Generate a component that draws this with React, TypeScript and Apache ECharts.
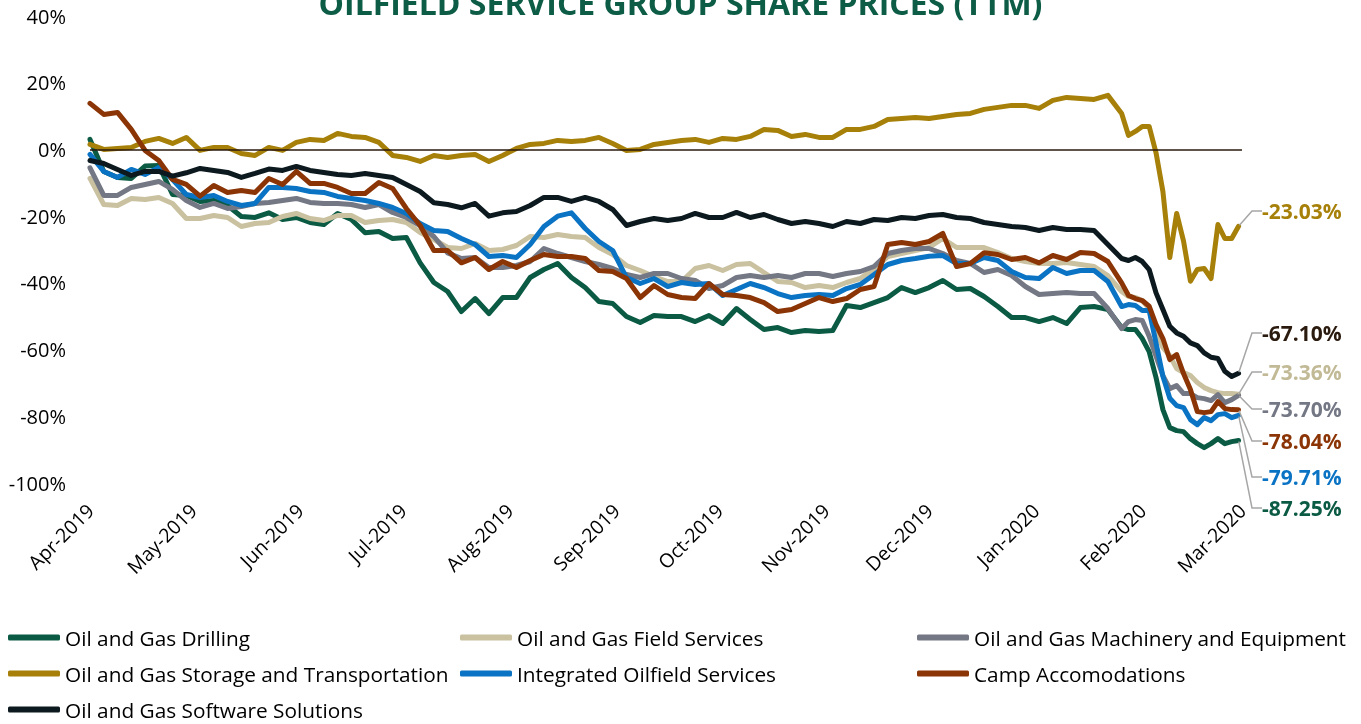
import React, { useEffect, useRef } from 'react';
import * as echarts from 'echarts';

const FONT = "'Open Sans', 'Noto Sans', sans-serif";

const sampleDays = [
  0, 4, 8, 12, 16, 20, 24, 28, 32, 36, 40, 44, 48, 52, 56, 60, 64, 68, 72, 76,
  80, 84, 88, 92, 96, 100, 104, 108, 112, 116, 120, 124, 128, 132, 136, 140, 144, 148, 152, 156,
  160, 164, 168, 172, 176, 180, 184, 188, 192, 196, 200, 204, 208, 212, 216, 220, 224, 228, 232, 236,
  240, 244, 248, 252, 256, 260, 264, 268, 272, 276, 280, 284, 288, 292, 296, 300,
  302, 304, 306, 308, 310, 312, 314, 316, 318, 320, 322, 324, 326, 328, 330, 332, 334,
];

const drilling = [
  3, -6.6, -8.4, -8.7, -5, -4.8, -13.5, -13.8, -15.6, -15.3,
  -16.8, -20.1, -20.4, -19, -21, -20.4, -21.9, -22.5, -19.2, -21,
  -25, -24.6, -26.7, -26.4, -34, -39.9, -42.6, -48.6, -44.7, -49.2,
  -44.4, -44.4, -38.4, -36, -34.2, -38.4, -41.4, -45.6, -46.2, -50.1,
  -51.9, -49.8, -50.1, -50.1, -51.6, -49.8, -52.2, -47.7, -51, -54,
  -53.4, -54.9, -54.3, -54.6, -54.3, -46.8, -47.4, -45.9, -44.4, -41.4,
  -42.9, -41.4, -39.3, -42, -41.7, -44.1, -47.1, -50.4, -50.4, -51.6,
  -50.4, -52.2, -47.4, -47.1, -48, -53.4,
  -54, -54, -56.7, -60.6, -68.4, -78, -83.4, -84.3, -84.6, -86.7, -88.2, -89.4, -88.2, -86.7, -88.2, -87.6, -87.25,
];

const fieldServices = [
  -8.7, -16.5, -16.8, -14.7, -15, -14.4, -16.2, -20.7, -20.7, -19.8,
  -20.4, -23.1, -22.2, -21.9, -20.1, -19.2, -20.7, -21.3, -19.8, -19.8,
  -21.9, -21.3, -21, -21.9, -24.9, -27, -29.4, -29.7, -28.2, -30.3,
  -30, -28.8, -26.1, -26.4, -25.5, -26.1, -26.4, -29.4, -31.5, -34.8,
  -36.3, -38.1, -39.6, -39.6, -35.7, -34.8, -36.3, -34.5, -34.2, -36.9,
  -39.6, -39.9, -41.4, -40.8, -41.4, -39.9, -38.7, -35.7, -32.1, -31.2,
  -30.3, -29.4, -26.7, -29.4, -29.4, -29.4, -30.9, -32.7, -33.6, -34.2,
  -34.2, -33.9, -34.5, -35.1, -37.8, -42.6,
  -44.1, -44.4, -45.3, -47.7, -54.3, -59.4, -61.8, -65.7, -66.9, -67.8, -69.9, -71.4, -72.3, -72.9, -73.2, -73.2, -73.36,
];

const machinery = [
  -5.5, -13.8, -13.8, -11.4, -10.5, -9.6, -12, -15.3, -17.4, -16.2,
  -17.7, -17.1, -16.2, -15.9, -15.3, -14.7, -15.9, -16.2, -16.2, -16.5,
  -17.4, -16.5, -18.9, -20.4, -22.8, -26.1, -31, -32.7, -32.4, -35.4,
  -35.4, -34.8, -33.6, -29.7, -31.2, -32.4, -33.6, -34.5, -35.7, -37.5,
  -38.4, -37.2, -37.2, -38.7, -39.3, -41.7, -40.8, -38.4, -37.8, -38.4,
  -37.8, -38.4, -37.2, -37.2, -38.1, -37.2, -36.6, -35.1, -31.2, -30.3,
  -29.7, -29.7, -31.2, -33.3, -34.2, -36.9, -36, -37.8, -41.1, -43.5,
  -43.2, -42.9, -43.2, -43.2, -47.7, -53.7,
  -51.6, -51, -51.3, -56, -62, -67.8, -71.7, -70.8, -73.2, -73.2, -74.4, -74.7, -75.3, -73.5, -75.9, -75, -73.7,
];

const storage = [
  1.5, 0, 0.3, 0.6, 2.4, 3.3, 1.8, 3.6, -0.3, 0.6,
  0.6, -1.2, -1.8, 0.6, -0.3, 2.1, 3, 2.7, 4.8, 3.9,
  3.6, 2.1, -1.8, -2.4, -3.6, -1.8, -2.4, -1.8, -1.5, -3.6,
  -1.8, 0.3, 1.5, 1.8, 2.7, 2.4, 2.7, 3.6, 1.8, -0.3,
  0, 1.5, 2.1, 2.7, 3, 2.1, 3.3, 3, 3.9, 6,
  5.7, 3.9, 4.5, 3.6, 3.6, 6, 6, 6.9, 9, 9.3,
  9.6, 9.3, 9.9, 10.5, 10.8, 12, 12.6, 13.2, 13.2, 12.3,
  14.7, 15.6, 15.3, 15, 16.2, 10.8,
  4.2, 5.4, 6.9, 6.9, -1, -12.6, -32.4, -19.2, -27.5, -39.5, -36, -35.7, -38.7, -22.5, -26.7, -26.7, -23.03,
];

const integrated = [
  -1.5, -6.6, -8.4, -6, -7.5, -5.4, -9, -13.5, -14.4, -13.8,
  -15.6, -16.8, -16.2, -11.4, -11.4, -11.7, -12.6, -12.9, -14.1, -14.7,
  -15.3, -16.2, -17.4, -19.2, -22.2, -24.3, -24.6, -26.7, -28.5, -32.1,
  -31.8, -32.4, -28.5, -23.1, -20, -19, -23.7, -27.6, -30.3, -38.4,
  -40.2, -38.7, -41.1, -39.9, -40.5, -40.2, -43.8, -42, -40.2, -41.4,
  -43.2, -44.4, -43.8, -43.5, -43.8, -41.7, -40.5, -37.5, -34.5, -33.3,
  -32.7, -32, -31.8, -34.2, -34.2, -32.4, -33.3, -36.6, -38.4, -38.7,
  -35.4, -37.2, -36.3, -36.3, -39.6, -47.1,
  -46.5, -46.8, -48.3, -48.3, -58, -68, -74.6, -76.8, -77.4, -81, -82.5, -80.4, -81.3, -79.5, -79.2, -80.4, -79.71,
];

const camp = [
  13.8, 10.5, 11.1, 6, -0.3, -3.3, -9, -10.5, -14, -10.8,
  -12.9, -12.3, -12.9, -8.7, -10.5, -6.6, -10.2, -10.2, -11.4, -13.2,
  -13.2, -9.9, -11.7, -17.7, -22.8, -30.3, -30.3, -34, -32.4, -36,
  -33.6, -35.4, -33.3, -31.5, -32.1, -32.1, -32.7, -36.3, -36.6, -38.7,
  -44.4, -40.8, -43.5, -44.4, -44.7, -40.2, -43.5, -43.8, -44.4, -45.9,
  -48.6, -48, -46.2, -44.4, -45.6, -44.7, -42, -41.1, -28.5, -27.9,
  -28.5, -27.6, -25.2, -35.1, -34.2, -31, -31.5, -33, -32.4, -34,
  -31.8, -33, -30.9, -31.2, -33.6, -40,
  -43.8, -44.7, -45.3, -47, -52.5, -56.7, -63, -61.5, -67.2, -72, -78.6, -78.9, -78.6, -75.6, -77.7, -78, -78.04,
];

const software = [
  -3.3, -4.2, -6, -7.8, -6.6, -6.6, -8, -7, -5.7, -6.3,
  -6.9, -8.4, -7.2, -5.9, -6.3, -5.1, -6.3, -6.9, -7.5, -7.8,
  -7.2, -7.8, -8.4, -10.5, -12.6, -16, -16.5, -17.5, -16.2, -20,
  -19, -18.6, -16.8, -14.4, -14.4, -15.6, -14.4, -15.6, -18, -22.8,
  -21.6, -20.7, -21.3, -20.7, -19.2, -20.4, -20.4, -18.9, -20.4, -19.5,
  -21, -22.2, -21.6, -22.2, -23.1, -21.6, -22.2, -21, -21.3, -20.4,
  -20.7, -19.8, -19.5, -20.4, -20.7, -21.9, -22.5, -23.1, -23.4, -24.3,
  -23.4, -24, -24, -24.3, -28.5, -32.7,
  -33.3, -32.4, -33.6, -36, -43, -48, -53, -55, -56, -58, -58.8, -61, -62.3, -62.7, -66.5, -68.1, -67.1,
];

const MONTHS = ['Jan', 'Feb', 'Mar', 'Apr', 'May', 'Jun', 'Jul', 'Aug', 'Sep', 'Oct', 'Nov', 'Dec'];

// daily categories 2019-04-01 .. 2020-03-01
const categories: string[] = [];
{
  const start = Date.UTC(2019, 3, 1);
  const end = Date.UTC(2020, 2, 1);
  for (let t = start; t <= end; t += 86400000) {
    categories.push(new Date(t).toISOString().slice(0, 10));
  }
}

const SERIES = [
  { name: 'Oil and Gas Drilling', values: drilling, color: '#0b5b44', labelColor: '#0b5b44', labelY: 508 },
  { name: 'Oil and Gas Field Services', values: fieldServices, color: '#c9c19f', labelColor: '#c2ba96', labelY: 372 },
  { name: 'Oil and Gas Machinery and Equipment', values: machinery, color: '#747784', labelColor: '#747784', labelY: 409 },
  { name: 'Oil and Gas Storage and Transportation', values: storage, color: '#a68009', labelColor: '#a68009', labelY: 211 },
  { name: 'Integrated Oilfield Services', values: integrated, color: '#0a73c4', labelColor: '#0a73c4', labelY: 477 },
  { name: 'Camp Accomodations', values: camp, color: '#8b3506', labelColor: '#8b3506', labelY: 441 },
  { name: 'Oil and Gas Software Solutions', values: software, color: '#0c1a1f', labelColor: '#2b1a0e', labelY: 333 },
];

const LEGEND_COLUMNS = [
  { left: 8, names: ['Oil and Gas Drilling', 'Oil and Gas Storage and Transportation', 'Oil and Gas Software Solutions'] },
  { left: 460, names: ['Oil and Gas Field Services', 'Integrated Oilfield Services'] },
  { left: 917, names: ['Oil and Gas Machinery and Equipment', 'Camp Accomodations'] },
];

function buildData(values: number[], labelColor: string) {
  const arr: any[] = categories.map(() => '-');
  sampleDays.forEach((d, i) => {
    arr[d] = values[i];
  });
  const lastDay = sampleDays[sampleDays.length - 1];
  const lastVal = values[values.length - 1];
  arr[lastDay] = {
    value: lastVal,
    symbol: 'circle',
    symbolSize: 2,
    label: {
      show: true,
      formatter: lastVal.toFixed(2) + '%',
      color: labelColor,
      fontSize: 21,
      fontWeight: 'bold',
      fontFamily: FONT,
      padding: [0, 0, 0, 8],
    },
    labelLine: {
      show: true,
      length2: 10,
      minTurnAngle: 0,
      lineStyle: { color: '#a6a6a6', width: 1.5 },
    },
  };
  return arr;
}

export default function App() {
  const ref = useRef<HTMLDivElement>(null);

  useEffect(() => {
    if (!ref.current) return;
    const chart = echarts.init(ref.current, undefined, { renderer: 'svg' });

    const series: any[] = SERIES.map((s, i) => ({
      type: 'line',
      name: s.name,
      data: buildData(s.values, s.labelColor),
      showSymbol: true,
      showAllSymbol: true,
      symbol: 'none',
      connectNulls: true,
      color: s.color,
      lineStyle: { color: s.color, width: 5, join: 'round', cap: 'round' },
      itemStyle: { color: s.color },
      emphasis: { disabled: true },
      labelLayout: { x: 1254, y: s.labelY, align: 'left', verticalAlign: 'middle' },
      markLine:
        i === 0
          ? {
              silent: true,
              symbol: ['none', 'none'],
              label: { show: false },
              lineStyle: { color: '#2b1a0e', width: 1.5, type: 'solid' },
              data: [{ yAxis: 0 }],
            }
          : undefined,
    }));

    const legendCommon = {
      type: 'plain',
      orient: 'vertical',
      top: 627,
      height: 110,
      padding: 0,
      itemWidth: 52,
      itemHeight: 6,
      itemGap: 15,
      icon: 'roundRect',
      selectedMode: false,
      textStyle: { fontSize: 20.8, color: '#000', fontFamily: FONT, lineHeight: 20 },
    };

    chart.setOption({
      animation: false,
      title: {
        text: 'OILFIELD SERVICE GROUP SHARE PRICES (TTM)',
        left: 'center',
        top: -19,
        textStyle: { fontSize: 32, fontWeight: 'bold', color: '#0d5c46', fontFamily: FONT },
      },
      grid: { left: 90, right: 119, top: 16, bottom: 241 },
      xAxis: {
        type: 'category',
        data: categories,
        boundaryGap: false,
        axisLine: { show: false },
        axisTick: { show: false },
        splitLine: { show: false },
        axisLabel: {
          interval: (_index: number, value: string) => value.endsWith('-01'),
          rotate: 45,
          margin: 24,
          fontSize: 19.5,
          color: '#000',
          fontFamily: FONT,
          formatter: (value: string) => {
            const [y, m] = value.split('-');
            return `${MONTHS[Number(m) - 1]}-${y}`;
          },
        },
      },
      yAxis: {
        type: 'value',
        min: -100,
        max: 40,
        interval: 20,
        axisLine: { show: false },
        axisTick: { show: false },
        splitLine: { show: false },
        axisLabel: { formatter: '{value}%', fontSize: 20, color: '#000', fontFamily: FONT, margin: 24 },
      },
      legend: LEGEND_COLUMNS.map((c) => ({ ...legendCommon, left: c.left, data: c.names })),
      series,
    });

    return () => chart.dispose();
  }, []);

  return <div ref={ref} style={{ position: 'fixed', left: 0, top: 0, width: 1361, height: 724 }} />;
}
